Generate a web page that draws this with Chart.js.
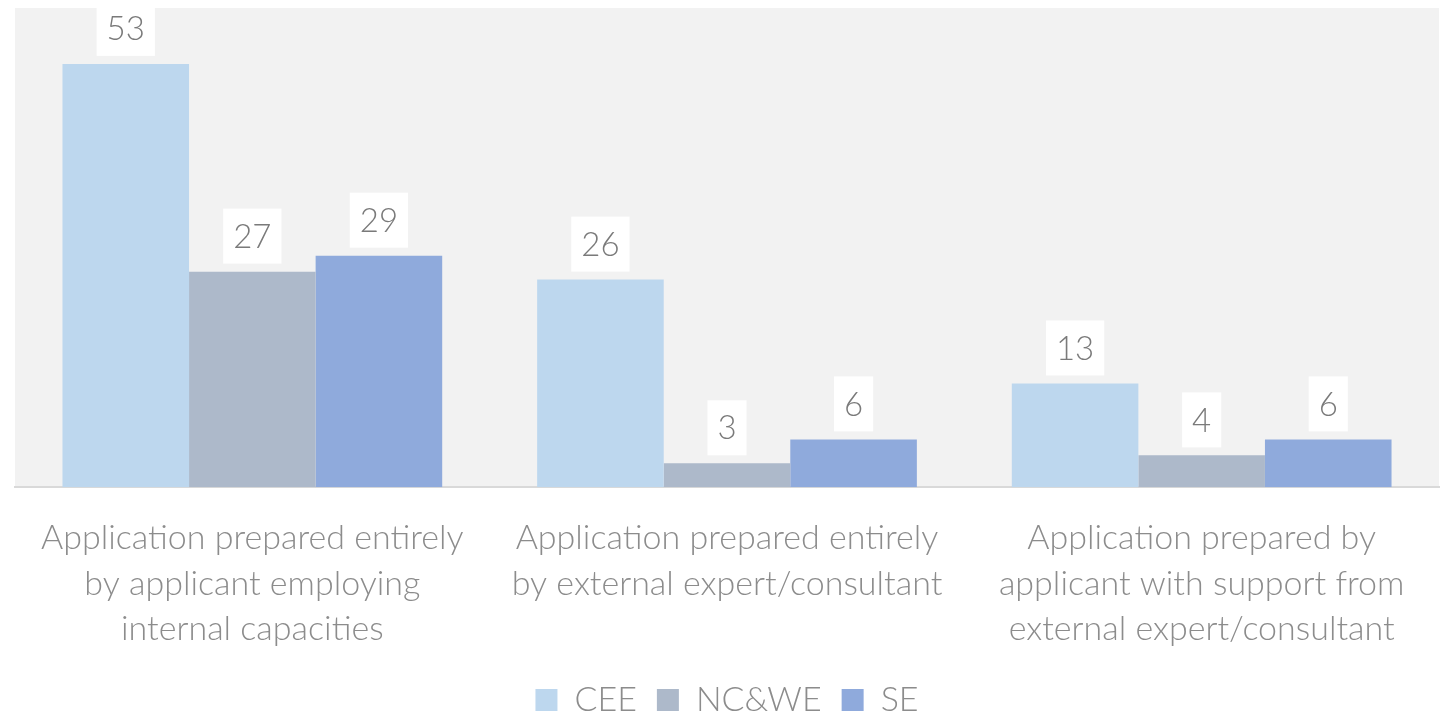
<!DOCTYPE html>
<html>
<head>
<meta charset="utf-8">
<script src="https://cdn.jsdelivr.net/npm/chart.js@4.4.0/dist/chart.umd.min.js"></script>
<style>
  html, body { margin: 0; padding: 0; background: #ffffff; }
  #wrap { width: 1453px; height: 715px; }
</style>
</head>
<body>
<div id="wrap"><canvas id="barChart"></canvas></div>
<script>
// Categories and series values
const categories = [
  ['Application prepared entirely', 'by applicant employing', 'internal capacities'],
  ['Application prepared entirely', 'by external expert/consultant'],
  ['Application prepared by', 'applicant with support from', 'external expert/consultant']
];
const seriesNames = ['CEE', 'NC&WE', 'SE'];
const ceeValues = [53, 26, 13];
const ncweValues = [27, 3, 4];
const seValues = [29, 6, 6];
const seriesColors = ['#bdd7ee', '#adb9ca', '#8faadc'];

const fontFamily = "Lato, 'Open Sans', sans-serif";

// grey plot background
const plotBackground = {
  id: 'plotBackground',
  beforeDraw(chart) {
    const { ctx, chartArea } = chart;
    ctx.save();
    ctx.fillStyle = '#f2f2f2';
    ctx.fillRect(chartArea.left, chartArea.top, chartArea.right - chartArea.left, chartArea.bottom - chartArea.top);
    ctx.restore();
  }
};

// value labels in white boxes above bars
const valueBoxes = {
  id: 'valueBoxes',
  afterDatasetsDraw(chart) {
    const { ctx, chartArea } = chart;
    ctx.save();
    ctx.beginPath();
    ctx.rect(chartArea.left, chartArea.top, chartArea.right - chartArea.left, chartArea.bottom - chartArea.top);
    ctx.clip();
    ctx.font = '300 33px ' + fontFamily;
    ctx.textAlign = 'center';
    ctx.textBaseline = 'middle';
    chart.data.datasets.forEach((ds, i) => {
      chart.getDatasetMeta(i).data.forEach((bar, j) => {
        const w = ctx.measureText(String(ds.data[j])).width + 20;
        const h = 55;
        const bottom = bar.y - 8;
        ctx.fillStyle = '#ffffff';
        ctx.fillRect(bar.x - w / 2, bottom - h, w, h);
        ctx.fillStyle = '#7a7a7a';
        ctx.fillText(String(ds.data[j]), bar.x, bottom - h / 2 + 1);
      });
    });
    ctx.restore();
  }
};

const ctx = document.getElementById('barChart').getContext('2d');
new Chart(ctx, {
  type: 'bar',
  data: {
    labels: categories,
    datasets: [ceeValues, ncweValues, seValues].map((vals, i) => ({
      label: seriesNames[i],
      data: vals,
      backgroundColor: seriesColors[i],
      borderWidth: 0,
      categoryPercentage: 0.8,
      barPercentage: 1.0
    }))
  },
  options: {
    responsive: true,
    maintainAspectRatio: false,
    animation: false,
    layout: { padding: { left: 15, right: 14, top: 8, bottom: -12 } },
    scales: {
      x: {
        grid: { display: false },
        border: { display: true, color: '#d9d9d9', width: 2 },
        ticks: {
          color: '#8c8c8c',
          font: { family: fontFamily, size: 34, weight: 300, lineHeight: 1.34 },
          padding: 20,
          maxRotation: 0,
          autoSkip: false
        },
        afterFit(scale) { scale.height -= 9; }
      },
      y: {
        display: false,
        min: 0,
        max: 60
      }
    },
    plugins: {
      legend: {
        display: true,
        position: 'bottom',
        labels: {
          color: '#8c8c8c',
          font: { family: fontFamily, size: 34, weight: 300 },
          boxWidth: 22,
          boxHeight: 22,
          padding: 20
        }
      },
      tooltip: { enabled: false }
    }
  },
  plugins: [plotBackground, valueBoxes]
});
</script>
</body>
</html>
